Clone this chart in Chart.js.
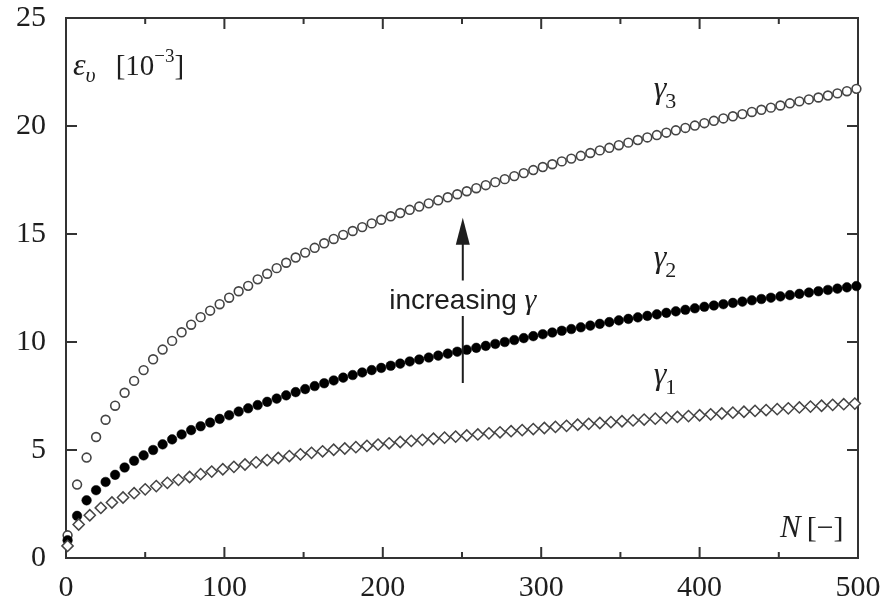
<!DOCTYPE html>
<html>
<head>
<meta charset="utf-8">
<script src="https://cdn.jsdelivr.net/npm/chart.js@4"></script>
<style>
  html, body { margin: 0; padding: 0; background: #fff; }
  #wrap { width: 887px; height: 602px; }
</style>
</head>
<body>
<div id="wrap"><canvas id="strainChart" width="887" height="602"></canvas></div>
<script>
// load cycles N for the circle series (gamma2, gamma3) and the diamond series (gamma1)
const nCircles = [1, 7, 13, 19, 25, 31, 37, 43, 49, 55, 61, 67, 73, 79, 85, 91, 97, 103, 109, 115,
  121, 127, 133, 139, 145, 151, 157, 163, 169, 175, 181, 187, 193, 199, 205, 211, 217, 223, 229, 235,
  241, 247, 253, 259, 265, 271, 277, 283, 289, 295, 301, 307, 313, 319, 325, 331, 337, 343, 349, 355,
  361, 367, 373, 379, 385, 391, 397, 403, 409, 415, 421, 427, 433, 439, 445, 451, 457, 463, 469, 475,
  481, 487, 493, 499];
const nDiamonds = [1, 8, 15, 22, 29, 36, 43, 50, 57, 64, 71, 78, 85, 92, 99, 106, 113, 120, 127, 134,
  141, 148, 155, 162, 169, 176, 183, 190, 197, 204, 211, 218, 225, 232, 239, 246, 253, 260, 267, 274,
  281, 288, 295, 302, 309, 316, 323, 330, 337, 344, 351, 358, 365, 372, 379, 386, 393, 400, 407, 414,
  421, 428, 435, 442, 449, 456, 463, 470, 477, 484, 491, 498];

// volumetric strain eps_v [1e-3]
const gamma3 = [1.05, 3.4, 4.65, 5.6, 6.4, 7.05, 7.65, 8.2, 8.7, 9.2, 9.65, 10.05, 10.45, 10.8, 11.15,
  11.45, 11.75, 12.05, 12.35, 12.6, 12.9, 13.16, 13.42, 13.67, 13.91, 14.14, 14.36, 14.57, 14.77, 14.96,
  15.14, 15.32, 15.49, 15.66, 15.82, 15.97, 16.12, 16.27, 16.42, 16.56, 16.7, 16.84, 16.98, 17.12, 17.26,
  17.4, 17.54, 17.68, 17.82, 17.96, 18.1, 18.23, 18.36, 18.49, 18.62, 18.75, 18.87, 18.99, 19.11, 19.23,
  19.35, 19.47, 19.58, 19.69, 19.8, 19.91, 20.02, 20.13, 20.24, 20.35, 20.45, 20.55, 20.65, 20.75, 20.85,
  20.95, 21.05, 21.14, 21.23, 21.32, 21.41, 21.51, 21.61, 21.72];
const gamma2 = [0.82, 1.95, 2.67, 3.14, 3.52, 3.85, 4.19, 4.5, 4.75, 5.0, 5.26, 5.49, 5.72, 5.92, 6.1,
  6.27, 6.44, 6.61, 6.78, 6.93, 7.08, 7.23, 7.38, 7.53, 7.68, 7.82, 7.96, 8.09, 8.22, 8.35,
  8.47, 8.59, 8.7, 8.8, 8.9, 9.0, 9.1, 9.19, 9.28, 9.37, 9.46, 9.55, 9.64, 9.73, 9.82,
  9.91, 10.0, 10.09, 10.18, 10.27, 10.36, 10.44, 10.52, 10.6, 10.68, 10.76, 10.84, 10.92, 11.0, 11.07,
  11.14, 11.21, 11.28, 11.35, 11.42, 11.49, 11.56, 11.63, 11.69, 11.75, 11.81, 11.87, 11.93, 11.99, 12.05,
  12.11, 12.17, 12.23, 12.29, 12.35, 12.41, 12.47, 12.53, 12.59];
const gamma1 = [0.56, 1.55, 1.98, 2.32, 2.57, 2.8, 3.0, 3.18, 3.33, 3.48, 3.62, 3.75, 3.88, 4.0, 4.11,
  4.22, 4.33, 4.43, 4.53, 4.63, 4.72, 4.8, 4.87, 4.94, 5.01, 5.07, 5.13, 5.19, 5.25, 5.31,
  5.37, 5.42, 5.47, 5.52, 5.57, 5.62, 5.67, 5.72, 5.77, 5.82, 5.87, 5.92, 5.97, 6.02, 6.07,
  6.12, 6.17, 6.21, 6.25, 6.29, 6.33, 6.37, 6.41, 6.45, 6.49, 6.53, 6.57, 6.61, 6.65, 6.69,
  6.73, 6.77, 6.81, 6.85, 6.89, 6.93, 6.97, 7.01, 7.05, 7.09, 7.12, 7.15];

const xTicks = [0, 100, 200, 300, 400, 500];
const xMinorTicks = [50, 150, 250, 350, 450];
const yTicks = [0, 5, 10, 15, 20, 25];

const serif = '"Liberation Serif", "Times New Roman", serif';
const sans = '"Liberation Sans", Arial, sans-serif';
const ink = '#1e1e1e';

function toPoints(xs, ys) {
  return xs.map((x, i) => ({ x: x, y: ys[i] }));
}

// box around the plot with inward tick marks on all four sides
const framePlugin = {
  id: 'frame',
  beforeDatasetsDraw(chart) {
    const { ctx, chartArea: a, scales: { x, y } } = chart;
    ctx.save();
    ctx.strokeStyle = '#333';
    ctx.lineWidth = 2;
    ctx.strokeRect(a.left, a.top, a.right - a.left, a.bottom - a.top);
    ctx.beginPath();
    xTicks.concat(xMinorTicks).forEach(v => {
      const px = x.getPixelForValue(v);
      const len = xTicks.includes(v) ? 11 : 6;
      ctx.moveTo(px, a.bottom); ctx.lineTo(px, a.bottom - len);
      ctx.moveTo(px, a.top); ctx.lineTo(px, a.top + len);
    });
    yTicks.forEach(v => {
      const py = y.getPixelForValue(v);
      ctx.moveTo(a.left, py); ctx.lineTo(a.left + 11, py);
      ctx.moveTo(a.right, py); ctx.lineTo(a.right - 11, py);
    });
    ctx.stroke();
    ctx.restore();
  }
};

// italic symbol with an upright subscript
function symbolSub(ctx, px, py, base, sub, size, subSize, drop) {
  ctx.font = 'italic ' + size + 'px ' + serif;
  ctx.fillText(base, px, py);
  const w = ctx.measureText(base).width;
  ctx.font = subSize + 'px ' + serif;
  ctx.fillText(sub, px + w - 1, py + drop);
}

// axis titles, curve labels and the "increasing gamma" arrow
const notesPlugin = {
  id: 'notes',
  afterDatasetsDraw(chart) {
    const { ctx, chartArea: a, scales: { x, y } } = chart;
    ctx.save();
    ctx.fillStyle = ink;
    ctx.strokeStyle = ink;
    ctx.textBaseline = 'alphabetic';
    ctx.textAlign = 'left';

    // y title: eps_v [10^-3]
    let px = a.left + 7, py = a.top + 57;
    ctx.font = 'italic 32px ' + serif;
    ctx.fillText('ε', px, py);
    px += ctx.measureText('ε').width;
    ctx.font = 'italic 22px ' + serif;
    ctx.fillText('υ', px, py + 7);
    px += ctx.measureText('υ').width + 20;
    ctx.font = '29px ' + serif;
    ctx.fillText('[10', px, py);
    px += ctx.measureText('[10').width;
    ctx.font = '19px ' + serif;
    ctx.fillText('−3', px, py - 13);
    px += ctx.measureText('−3').width;
    ctx.font = '29px ' + serif;
    ctx.fillText(']', px, py);

    // x title: N [−]
    px = a.right - 78; py = a.bottom - 21;
    ctx.font = 'italic 31px ' + serif;
    ctx.fillText('N', px, py);
    px += ctx.measureText('N').width + 6;
    ctx.font = '30px ' + serif;
    ctx.fillText('[−]', px, py);

    // curve labels
    const lx = x.getPixelForValue(371);
    symbolSub(ctx, lx, y.getPixelForValue(21.3), 'γ', '3', 32, 22, 10);
    symbolSub(ctx, lx, y.getPixelForValue(13.45), 'γ', '2', 32, 22, 10);
    symbolSub(ctx, lx, y.getPixelForValue(8.05), 'γ', '1', 32, 22, 10);

    // arrow with a gap for its caption
    const ax = x.getPixelForValue(250.5);
    const tail = y.getPixelForValue(8.1);
    const tip = y.getPixelForValue(15.75);
    const gapTop = y.getPixelForValue(12.85);
    const gapBottom = y.getPixelForValue(11.2);
    ctx.lineWidth = 2;
    ctx.beginPath();
    ctx.moveTo(ax, tail); ctx.lineTo(ax, gapBottom);
    ctx.moveTo(ax, gapTop); ctx.lineTo(ax, tip + 24);
    ctx.stroke();
    ctx.beginPath();
    ctx.moveTo(ax, tip);
    ctx.lineTo(ax - 7, tip + 27);
    ctx.lineTo(ax + 7, tip + 27);
    ctx.closePath();
    ctx.fill();

    const caption = 'increasing ';
    ctx.font = '28px ' + sans;
    const w1 = ctx.measureText(caption).width;
    ctx.font = 'italic 30px ' + serif;
    const w2 = ctx.measureText('γ').width;
    let cx = ax - (w1 + w2) / 2;
    const cy = y.getPixelForValue(11.55);
    ctx.font = '28px ' + sans;
    ctx.fillText(caption, cx, cy);
    ctx.font = 'italic 30px ' + serif;
    ctx.fillText('γ', cx + w1, cy);

    ctx.restore();
  }
};

const ctx = document.getElementById('strainChart').getContext('2d');

new Chart(ctx, {
  type: 'scatter',
  data: {
    datasets: [
      {
        label: 'γ1',
        data: toPoints(nDiamonds, gamma1),
        pointStyle: 'rectRot',
        pointRadius: 5.6,
        pointBorderWidth: 1.5,
        pointBorderColor: '#444',
        pointBackgroundColor: '#fff',
        showLine: false,
        clip: false
      },
      {
        label: 'γ2',
        data: toPoints(nCircles, gamma2),
        pointStyle: 'circle',
        pointRadius: 4.8,
        pointBorderWidth: 0.5,
        pointBorderColor: '#000',
        pointBackgroundColor: '#000',
        showLine: false,
        clip: false
      },
      {
        label: 'γ3',
        data: toPoints(nCircles, gamma3),
        pointStyle: 'circle',
        pointRadius: 4.4,
        pointBorderWidth: 1.6,
        pointBorderColor: '#444',
        pointBackgroundColor: '#fff',
        showLine: false,
        clip: false
      }
    ]
  },
  options: {
    responsive: false,
    devicePixelRatio: 1,
    animation: false,
    layout: { padding: { left: 0, top: 18, right: 29, bottom: 0 } },
    plugins: {
      legend: { display: false },
      tooltip: { enabled: false }
    },
    scales: {
      x: {
        type: 'linear',
        min: 0,
        max: 500,
        afterFit(scale) {
          scale.height = 44;
          scale.paddingLeft = 0;
          scale.paddingRight = 0;
        },
        afterBuildTicks(scale) { scale.ticks = xTicks.map(v => ({ value: v })); },
        grid: { display: false, drawTicks: false },
        border: { display: false },
        ticks: { color: ink, padding: 12, font: { family: serif, size: 30 }, maxRotation: 0 }
      },
      y: {
        type: 'linear',
        min: 0,
        max: 25,
        afterFit(scale) {
          scale.width = 66;
          scale.paddingTop = 0;
          scale.paddingBottom = 0;
        },
        afterBuildTicks(scale) { scale.ticks = yTicks.map(v => ({ value: v })); },
        grid: { display: false, drawTicks: false },
        border: { display: false },
        ticks: { color: ink, padding: 20, font: { family: serif, size: 30 } }
      }
    }
  },
  plugins: [framePlugin, notesPlugin]
});
</script>
</body>
</html>
